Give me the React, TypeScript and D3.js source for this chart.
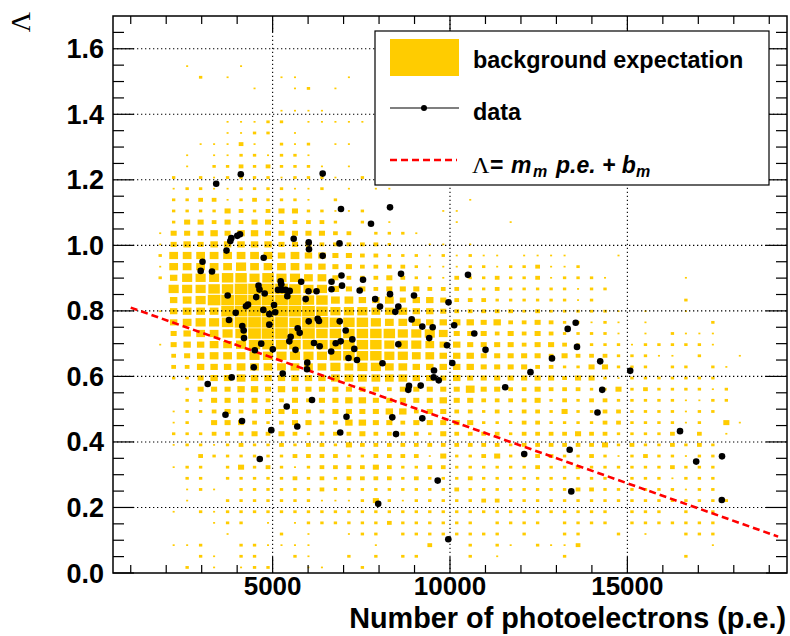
import React from 'react';
import * as d3 from 'd3';

const X_DOMAIN = [500, 19500];
const Y_DOMAIN = [0, 1.7];
const N_BINS_X = 50;
const N_BINS_Y = 50;
const X_TICK_LABELS = [5000, 10000, 15000];
const Y_TICK_LABELS = [0, 0.2, 0.4, 0.6, 0.8, 1.0, 1.2, 1.4, 1.6];

// background expectation: box-size level per bin (0-9), top row (highest Λ) first
const BG_ROWS = [
  '.......... .......... .......... .......... ..........',
  '.......... .......... .......... .......... ..........',
  '.......... .......... .......... .......... ..........',
  '.......... .......... .......... .......... ..........',
  '.....1...1 .......... .......... .......... ..........',
  '......2.1. ..11...1.. .......... .......... ..........',
  '.......... 1..12.1... .......... .......... ..........',
  '.......... .......... .......... .......... ..........',
  '.......... ..1111.... .......... .......... ..........',
  '........11 122.111111 .......... .......... ..........',
  '........11 22.1...... .......... .......... ..........',
  '......1113 1.212.11.. .......... .......... ..........',
  '.....1.112 21221..... .......... .......... ..........',
  '.....1.223 232221.1.. .......... .......... ..........',
  '....2.2122 2212221.2. .......... .......... ..........',
  '....122112 222112.1.1 1......... .......... ..........',
  '....223312 32221.2... ......1... .......... ..........',
  '....222243 234422112. ....11.... .......... ..........',
  '....244343 4433332.2. 1....1...1 .......... ..........',
  '...1444545 54444433.2 221....... .......... ..........',
  '...1454555 5544433333 2..11.1... .......... ..........',
  '...2666666 6656554433 222121211. 1111...1.. ..........',
  '...1666667 6666554433 3321112212 23112..... ..........',
  '...2577788 7877664333 4322132232 2312221... ..1.......',
  '....777889 9998775443 4443332232 2222122... ..........',
  '....567999 9999886655 6455433322 222212.... ..2.......',
  '...1566699 9999987776 6655433333 23222221.1 ..1.......',
  '....567789 9998998887 6665555453 34322121.1 ....2.....',
  '....456678 9999988888 8777644434 34322221.1 .2111.....',
  '...1455667 8888888888 7776554444 3443222212 22221.....',
  '....345666 7777778888 7766555444 4434333222 11.2..1...',
  '....335556 6666667677 6655555444 4332244222 .22.21....',
  '....224556 5555556666 6655454444 4443442122 22222.....',
  '.....24445 5454444444 3444446443 3433322423 222212....',
  '.....22444 4334344554 4444544333 3423233222 221122....',
  '....122343 3444334444 5534433232 3324223322 22122.....',
  '....12.444 3234433554 4344444222 3322223322 2212.41...',
  '....222333 4343233343 3332433332 3333433222 23.3.1....',
  '....122123 2232332433 3333333332 3333334232 23232.....',
  '......3222 2223333223 3331422342 2332232123 22122.....',
  '....122.24 2321233334 3223322222 2322322222 23222.....',
  '.....22.22 2223232333 3232223222 2222222.22 21222.....',
  '.....121.2 2222232222 2222232222 2222332222 22122.....',
  '.....1..22 2222211124 2122222332 2222222222 222222....',
  '....1.2122 2222222222 2222222222 2222222.22 2.2.2.....',
  '.......122 .1.1222222 3222222.22 22.2222.22 22222.....',
  '........1. ..2.1..122 .22222222. 2..22..2.1 ..222.....',
  '....112..2 21111....1 ...3..2.21 .2113..... ....1.....',
  '......21.2 2..21..2.2 .22...2.1. ...2...... ..2.......',
  '.....2.1.1 22..11..2. .......... .......... ..........',
];

const DATA_X = [
  3409, 4103, 6411, 6927, 8309, 7773, 6885, 3807, 3835, 4004,
  4080, 3700, 3023, 2972, 3291, 4748, 5594, 6017, 6025, 6411,
  6941, 6955, 5805, 5227, 5244, 5151, 5264, 5363, 5481, 5414,
  4602, 4630, 4776, 4537, 4306, 4249, 3733, 5932, 6011, 6237,
  6660, 6660, 5039, 4737, 4906, 5072, 3959, 3770, 4906, 4145,
  4184, 4193, 5707, 6017, 6270, 6307, 6891, 5763, 5509, 5470,
  4678, 4497, 5005, 5645, 6166, 6327, 6778, 6919, 6651, 5977,
  5969, 4469, 5284, 3846, 3170, 6110, 5397, 7060, 7246, 7302,
  7139, 7378, 7548, 7454, 8619, 8309, 7891, 8027, 8543, 8458,
  8985, 9958, 10507, 8920, 9219, 9512, 9414, 10118, 10685, 8543,
  8097, 9915, 10065, 11001, 9549, 9540, 9682, 8844, 8824, 9174,
  12269, 12875, 11556, 13318, 13543, 13580, 14234, 14291, 15080, 7082,
  6905, 8373, 8478, 9219, 9653, 7976, 9952, 14158, 12092, 13374,
  13419, 16484, 16940, 17668, 17662, 5695, 3671, 4137, 4962, 4638,
];
const DATA_Y = [
  1.188, 1.217, 1.219, 1.111, 1.116, 1.066, 1.006, 1.013, 1.022, 1.029,
  1.034, 0.984, 0.950, 0.922, 0.920, 0.962, 1.020, 1.009, 0.988, 0.968,
  0.908, 0.877, 0.889, 0.890, 0.881, 0.864, 0.864, 0.864, 0.861, 0.845,
  0.877, 0.865, 0.853, 0.842, 0.819, 0.814, 0.847, 0.836, 0.860, 0.860,
  0.889, 0.866, 0.818, 0.803, 0.790, 0.796, 0.794, 0.772, 0.758, 0.754,
  0.740, 0.717, 0.747, 0.768, 0.776, 0.769, 0.768, 0.733, 0.721, 0.707,
  0.700, 0.680, 0.683, 0.681, 0.702, 0.692, 0.701, 0.707, 0.676, 0.642,
  0.622, 0.628, 0.609, 0.597, 0.577, 0.528, 0.508, 0.740, 0.713, 0.684,
  0.656, 0.650, 0.895, 0.862, 0.913, 0.851, 0.836, 0.813, 0.813, 0.797,
  0.847, 0.826, 0.910, 0.774, 0.752, 0.750, 0.717, 0.756, 0.731, 0.698,
  0.640, 0.695, 0.641, 0.681, 0.618, 0.597, 0.588, 0.571, 0.559, 0.572,
  0.613, 0.655, 0.567, 0.745, 0.764, 0.690, 0.646, 0.559, 0.617, 0.477,
  0.429, 0.475, 0.424, 0.472, 0.282, 0.211, 0.103, 0.490, 0.363, 0.376,
  0.249, 0.433, 0.340, 0.356, 0.223, 0.447, 0.483, 0.464, 0.436, 0.348,
];

const FIT_X = [1000, 19250];
const FIT_Y = [0.81, 0.111];

const SANS = "'Liberation Sans', Arial, Helvetica, sans-serif";
const SERIF = "'Liberation Serif', 'DejaVu Serif', serif";
const YELLOW = '#ffcc00';

export default function App() {
  const W = 790, H = 636;
  const L = 113, R = 787, T = 16, B = 573;
  const x = d3.scaleLinear().domain(X_DOMAIN).range([L, R]);
  const y = d3.scaleLinear().domain(Y_DOMAIN).range([B, T]);
  const bw = (X_DOMAIN[1] - X_DOMAIN[0]) / N_BINS_X;
  const bh = (Y_DOMAIN[1] - Y_DOMAIN[0]) / N_BINS_Y;
  const frac = (l: number) => (l >= 9 ? 0.94 : 0.05 + 0.1 * l);

  const boxes: any[] = [];
  BG_ROWS.forEach((row, r) => {
    const j = N_BINS_Y - 1 - r;
    const s = row.replace(/ /g, '');
    for (let i = 0; i < N_BINS_X && i < s.length; i++) {
      const c = s[i];
      if (c === '.' || c === '0') continue;
      const lvl = +c;
      const f = frac(lvl);
      const cx = x(X_DOMAIN[0] + bw * (i + 0.5));
      const cy = y(Y_DOMAIN[0] + bh * (j + 0.5));
      const w = (x(X_DOMAIN[0] + bw) - x(X_DOMAIN[0])) * f;
      const h = (y(Y_DOMAIN[0]) - y(Y_DOMAIN[0] + bh)) * f;
      boxes.push(<rect key={`b${i}-${j}`} x={cx - w / 2} y={cy - h / 2} width={w} height={h} fill={YELLOW} />);
    }
  });

  const xTicks = d3.range(1000, 19001, 1000);
  const yTickIdx = d3.range(0, 34);
  const grid = '1.3,2.7';

  const fitLine = d3.line<number>().x((d, i) => x(FIT_X[i])).y((d, i) => y(FIT_Y[i]));

  return (
    <svg width={W} height={H} style={{ position: 'absolute', left: 0, top: 0, background: '#fff' }} fontFamily={SANS}>
      <rect x={0} y={0} width={W} height={H} fill="#fff" />
      {boxes}
      {/* grid */}
      {X_TICK_LABELS.map((v) => (
        <line key={`gx${v}`} x1={x(v)} x2={x(v)} y1={B} y2={T} stroke="#000" strokeWidth={1.1} strokeDasharray={grid} />
      ))}
      {Y_TICK_LABELS.filter((v) => v > 0).map((v) => (
        <line key={`gy${v}`} x1={L} x2={R} y1={y(v)} y2={y(v)} stroke="#000" strokeWidth={1.1} strokeDasharray={grid} />
      ))}
      {/* ticks */}
      {xTicks.map((v) => {
        const major = v % 5000 === 0;
        const len = major ? 16 : 8;
        return (
          <g key={`xt${v}`} stroke="#000" strokeWidth={1.2}>
            <line x1={x(v)} x2={x(v)} y1={B} y2={B - len} />
            <line x1={x(v)} x2={x(v)} y1={T} y2={T + len} />
          </g>
        );
      })}
      {yTickIdx.map((k) => {
        const v = k * 0.05;
        const major = k % 4 === 0;
        const len = major ? 21 : 11;
        return (
          <g key={`yt${k}`} stroke="#000" strokeWidth={1.2}>
            <line x1={L} x2={L + len} y1={y(v)} y2={y(v)} />
            <line x1={R} x2={R - len} y1={y(v)} y2={y(v)} />
          </g>
        );
      })}
      <rect x={L} y={T} width={R - L} height={B - T} fill="none" stroke="#000" strokeWidth={1.5} />
      {/* fit line */}
      <path d={fitLine(FIT_X) || ''} fill="none" stroke="#ff0000" strokeWidth={2.6} strokeDasharray="7,4" />
      {/* data */}
      {DATA_X.map((v, i) => (
        <circle key={`p${i}`} cx={x(v)} cy={y(DATA_Y[i])} r={3.3} fill="#000" />
      ))}
      {/* tick labels */}
      {Y_TICK_LABELS.map((v) => (
        <text key={`yl${v}`} x={104} y={y(v) + 9.5} textAnchor="end" fontSize={27} fontWeight="bold">
          {v.toFixed(1)}
        </text>
      ))}
      {X_TICK_LABELS.map((v) => (
        <text key={`xl${v}`} x={x(v)} y={595} textAnchor="middle" fontSize={26} fontWeight="bold">
          {v}
        </text>
      ))}
      <text x={786} y={628} textAnchor="end" fontSize={28.8} fontWeight="bold">
        Number of photoelectrons (p.e.)
      </text>
      <text transform="translate(30,12) rotate(-90)" textAnchor="end" fontSize={28} fontFamily={SERIF}>
        Λ
      </text>
      {/* legend */}
      <rect x={375} y={31} width={394} height={154} fill="#fff" stroke="#000" strokeWidth={1.2} />
      <rect x={390} y={39} width={69} height={37} fill={YELLOW} />
      <text x={473} y={68} fontSize={23.4} fontWeight="bold">background expectation</text>
      <line x1={390} x2={459} y1={108} y2={108} stroke="#000" strokeWidth={1.2} />
      <circle cx={424} cy={108} r={3} fill="#000" />
      <text x={473} y={120} fontSize={23.4} fontWeight="bold">data</text>
      <line x1={390} x2={457} y1={160} y2={160} stroke="#ff0000" strokeWidth={2.6} strokeDasharray="7,4" />
      <text y={173} fontSize={23} fontWeight="bold">
        <tspan x={472} fontFamily={SERIF} fontWeight="normal" fontSize={24}>Λ</tspan>
        <tspan x={490}>=</tspan>
        <tspan x={511} fontStyle="italic">m</tspan>
        <tspan x={533} dy={4} fontStyle="italic" fontSize={16}>m</tspan>
        <tspan x={556} dy={-4} fontStyle="italic">p.e. + b</tspan>
        <tspan dy={4} fontStyle="italic" fontSize={16}>m</tspan>
      </text>
    </svg>
  );
}
